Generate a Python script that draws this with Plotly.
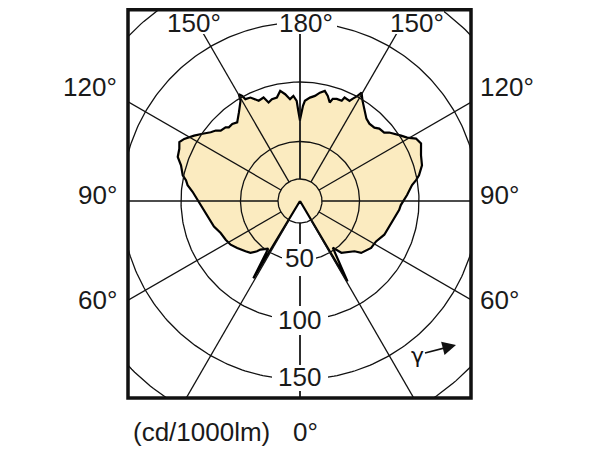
import numpy as np
import plotly.graph_objects as go

# Luminous intensity (cd/1000lm) vs gamma angle, right side (C0) and left side (C180)
gamma_right = [29, 30.6, 35.1, 38.6, 47.3, 49.7, 56.6, 62.0, 68.2, 71.8, 79.9, 84.9, 87.7,
               93.2, 98.1, 100.2, 102.2, 106.3, 110.7, 115.4, 118.3, 120.6, 122.9, 125.6,
               127.5, 129.1, 132.4, 134.6, 138.1, 141.1, 144.5, 148.0, 150.4, 151.3, 152.8,
               153.7, 156.7, 157.4, 160.2, 162.2, 163.2, 165.2, 167.3, 169.6, 171.9, 174.5,
               177.2, 178.2, 180]
intensity_right = [0, 78.5, 47.9, 55.7, 62.3, 67.4, 71.6, 72.4, 76.3, 77.2, 80.4, 83.7, 84.8,
                   90.1, 95.1, 99.1, 102.3, 106.8, 108.7, 112.6, 110.7, 104.6, 101.2, 97.4,
                   94.5, 91.2, 90.2, 87.8, 87.3, 88.9, 93.2, 99.2, 104.7, 100.7, 96.5,
                   93.9, 94.7, 91.2, 91.2, 90.1, 86.4, 91.4, 94.8, 92.6, 89.2, 87.3,
                   84.3, 80.0, 68.3]
gamma_left = [29, 31.1, 33.7, 39.2, 40.5, 43.7, 47.3, 53.2, 57.8, 62.5, 68.0, 73.5, 79.3,
              82.6, 86.7, 90.6, 94.9, 98.0, 100.3, 102.4, 106.7, 109.8, 113.4, 116.0, 118.2,
              121.7, 124.6, 127.6, 129.9, 131.6, 134.7, 136.0, 138.7, 141.4, 145.4, 149.3,
              150.2, 151.2, 151.8, 154.4, 156.3, 157.6, 160.6, 162.3, 164.6, 167.4, 169.8,
              172.1, 174.4, 176.4, 178.1, 178.9, 180]
intensity_left = [0, 75.9, 48.1, 52.7, 55.6, 60.3, 62.3, 65.9, 68.9, 70.4, 71.9, 75.4, 77.8,
                  79.8, 82.1, 86.1, 90.6, 95.4, 97.4, 100.9, 104.4, 109.2, 110.5, 112.8, 110.4,
                  104.6, 99.5, 94.7, 92.3, 89.1, 88.0, 86.1, 86.2, 84.6, 90.4, 97.9,
                  103.4, 100.8, 97.1, 96.4, 93.4, 91.1, 92.2, 86.9, 88.8, 89.1, 94.0,
                  90.6, 86.0, 88.5, 84.2, 75.8, 67.5]

radial_ticks = [50, 100, 150]
grid_circles = [18.5, 50, 100, 150, 200]
grid_angles = [0, 30, 60, 90, 120, 150, 180]
angle_labels = ["60°", "90°", "120°"]

PX = 1.19          # pixels per cd/1000lm
CX, CY = 300, 201  # page pixel of the polar centre
OFF = 8            # page body margin
L, R, T, B = 128 - OFF, 600 - (471 - OFF), 0, 449 - (398 - OFF)
PW = 600 - L - R
PH = 449 - T - B
PTOP = OFF + T     # page y of plot-area top

def pt(xp, yp):
    return (xp - CX) / PX, (CY - yp) / PX

def paper(xp, yp):
    return (xp - OFF - L) / PW, (398 - yp) / PH

def to_xy(g, r, side):
    g = np.radians(np.asarray(g, float))
    r = np.asarray(r, float)
    return side * r * np.sin(g), -r * np.cos(g)

xr, yr = to_xy(gamma_right, intensity_right, 1)
xl, yl = to_xy(gamma_left[::-1], intensity_left[::-1], -1)
xs = np.concatenate([xr, xl])
ys = np.concatenate([yr, yl])

fig = go.Figure()
fig.add_trace(go.Scatter(x=xs, y=ys, mode="lines", fill="toself",
                         fillcolor="#FBEBC0", line=dict(color="black", width=2.2),
                         hoverinfo="skip"))

th = np.linspace(0, 2 * np.pi, 361)
for rc in grid_circles:
    fig.add_trace(go.Scatter(x=rc * np.sin(th), y=rc * np.cos(th), mode="lines",
                             line=dict(color="#111", width=1.3), hoverinfo="skip"))
for a in grid_angles:
    for side in (1, -1):
        x0, y0 = to_xy([a], [grid_circles[0]], side)
        x1, y1 = to_xy([a], [400], side)
        fig.add_trace(go.Scatter(x=[x0[0], x1[0]], y=[y0[0], y1[0]], mode="lines",
                                 line=dict(color="#111", width=1.3), hoverinfo="skip"))

font = dict(family="Liberation Sans, Arial, sans-serif", size=26, color="#1a1a1a")
ann = []
shapes = []

def add_text(xp, yp, text, xanchor="center", ref="data"):
    if ref == "data":
        x, y = pt(xp, yp)
        xref, yref = "x", "y"
    else:
        x, y = paper(xp, yp)
        xref, yref = "paper", "paper"
    ann.append(dict(x=x, y=y, xref=xref, yref=yref, text=text, showarrow=False,
                    font=font, xanchor=xanchor, yanchor="middle"))

def gap(x0p, y0p, x1p, y1p):
    a0, b0 = pt(x0p, y0p)
    a1, b1 = pt(x1p, y1p)
    shapes.append(dict(type="rect", xref="x", yref="y", x0=a0, x1=a1, y0=b1, y1=b0,
                       fillcolor="white", line=dict(width=0), layer="above"))

# white gaps behind labels that sit on grid lines
gap(277, 11, 337, 34)
gap(168, 11, 222, 34)
gap(392, 11, 444, 34)
gap(282, 244, 316, 276)
gap(272, 306, 328, 335)
gap(272, 365, 328, 391)

add_text(306, 23, "180°")
add_text(194, 23, "150°")
add_text(417, 23, "150°")
for yp, lab in zip([300, 195, 87], angle_labels):
    add_text(119, yp, lab, xanchor="right", ref="paper")
    add_text(478, yp, lab, xanchor="left", ref="paper")
for yp, v in zip([258, 320, 377], radial_ticks):
    add_text(299, yp, str(v))
add_text(201, 432, "(cd/1000lm)", ref="paper")
add_text(305, 432, "0°", ref="paper")

hx, hy = pt(456, 345)
ann.append(dict(x=hx, y=hy, xref="x", yref="y", text="γ", showarrow=True,
                ax=-39, ay=10, arrowhead=2, arrowsize=1.7, arrowwidth=1.6,
                arrowcolor="#111", standoff=0,
                font=dict(family="DejaVu Sans, Arial", size=22, color="#111")))

# outer frame
shapes.append(dict(type="rect", xref="paper", yref="paper", x0=0, x1=1,
                   y0=0, y1=paper(0, PTOP + 1.8)[1],
                   line=dict(color="#111", width=3.5)))

xmin, _ = pt(128, 0)
xmax, _ = pt(471, 0)
_, ymax = pt(0, PTOP)
_, ymin = pt(0, 398)

fig.update_layout(
    width=600, height=449,
    margin=dict(l=L, r=R, t=T, b=B),
    paper_bgcolor="white", plot_bgcolor="white",
    showlegend=False,
    xaxis=dict(range=[xmin, xmax], visible=False, fixedrange=True),
    yaxis=dict(range=[ymin, ymax], visible=False, fixedrange=True),
    annotations=ann,
    shapes=shapes,
)
fig.write_html("out.html")
